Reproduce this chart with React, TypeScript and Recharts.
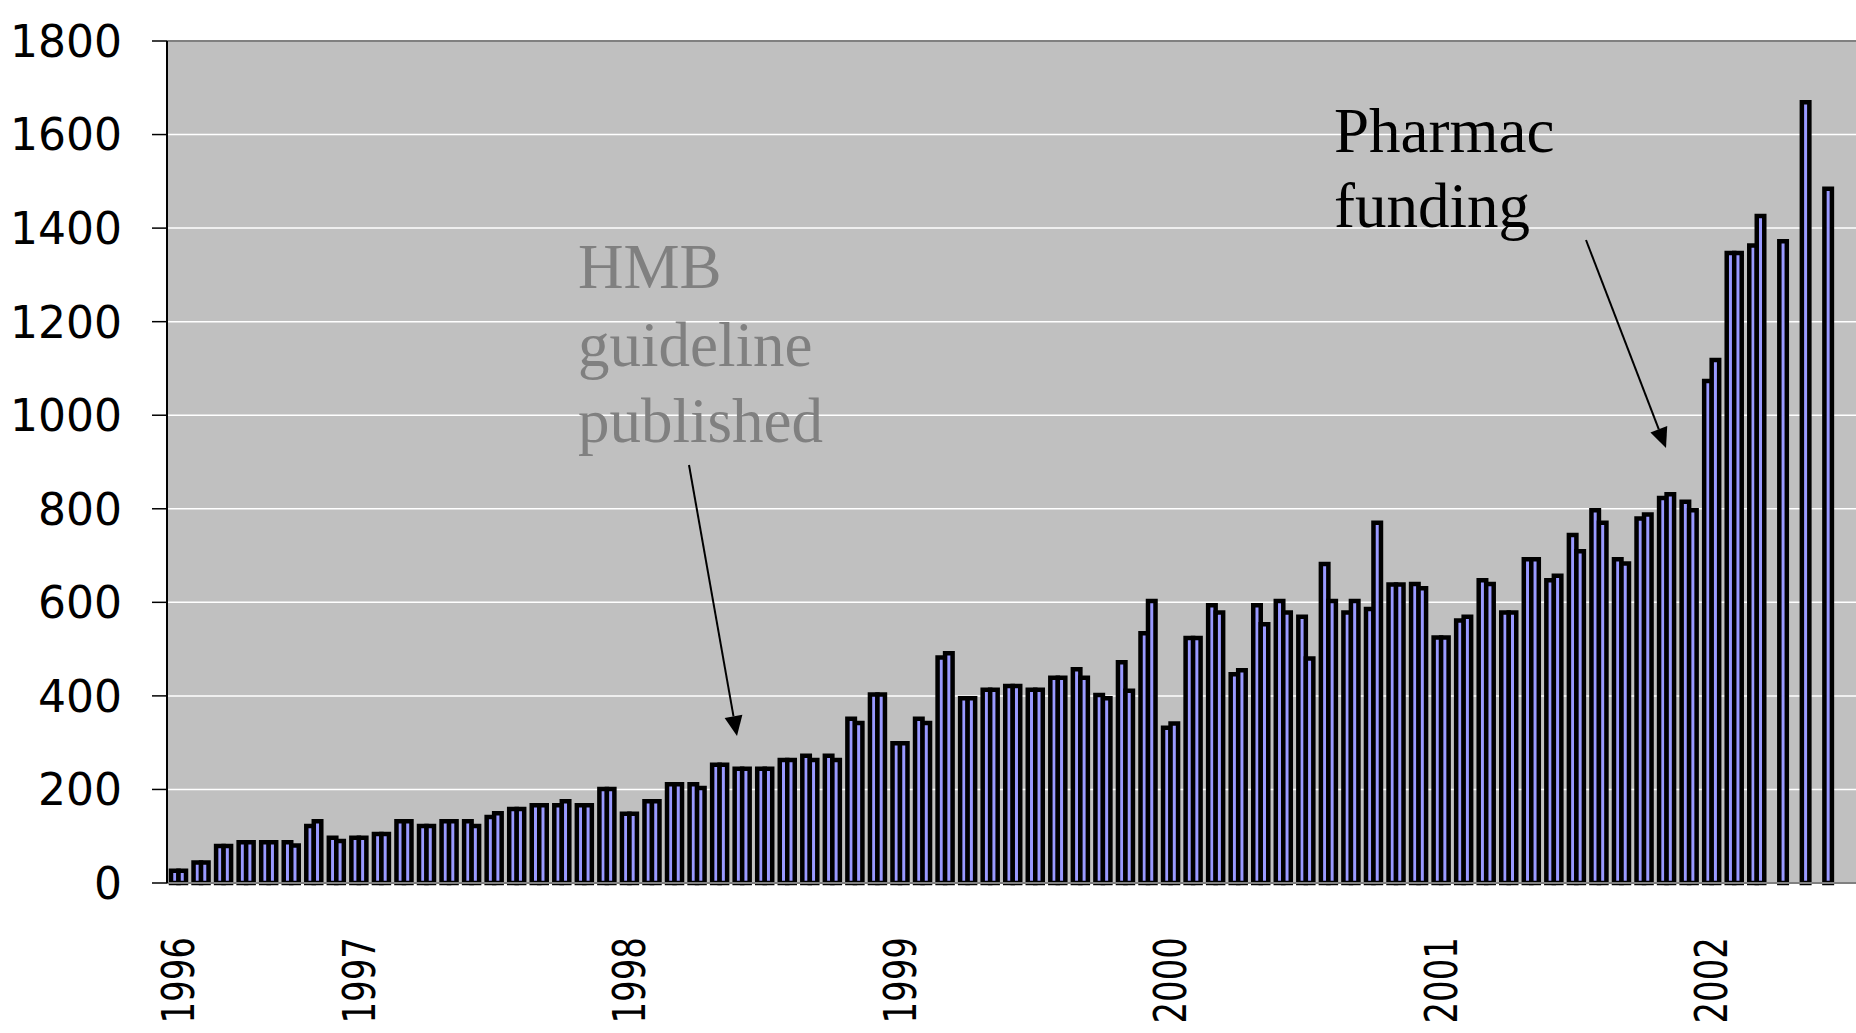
import { BarChart, Bar, XAxis, YAxis, CartesianGrid, ReferenceLine } from "recharts";

// one slot per month, May 1996 .. Jul 2002 (last slot empty in the picture)
const months = [
  "May-96", "Jun-96", "Jul-96", "Aug-96", "Sep-96", "Oct-96", "Nov-96", "Dec-96",
  "Jan-97", "Feb-97", "Mar-97", "Apr-97", "May-97", "Jun-97", "Jul-97", "Aug-97", "Sep-97", "Oct-97", "Nov-97", "Dec-97",
  "Jan-98", "Feb-98", "Mar-98", "Apr-98", "May-98", "Jun-98", "Jul-98", "Aug-98", "Sep-98", "Oct-98", "Nov-98", "Dec-98",
  "Jan-99", "Feb-99", "Mar-99", "Apr-99", "May-99", "Jun-99", "Jul-99", "Aug-99", "Sep-99", "Oct-99", "Nov-99", "Dec-99",
  "Jan-00", "Feb-00", "Mar-00", "Apr-00", "May-00", "Jun-00", "Jul-00", "Aug-00", "Sep-00", "Oct-00", "Nov-00", "Dec-00",
  "Jan-01", "Feb-01", "Mar-01", "Apr-01", "May-01", "Jun-01", "Jul-01", "Aug-01", "Sep-01", "Oct-01", "Nov-01", "Dec-01",
  "Jan-02", "Feb-02", "Mar-02", "Apr-02", "May-02", "Jun-02", "Jul-02",
];

const seriesA = [
  26, 44, 79, 87, 87, 87, 122, 97,
  97, 105, 132, 122, 132, 132, 141, 158, 166, 166, 166, 201,
  148, 175, 211, 211, 253, 244, 244, 263, 272, 272, 351, 403,
  299, 351, 482, 395, 413, 421, 413, 439, 457, 402, 472, 534,
  332, 524, 594, 446, 594, 603, 569, 682, 578, 586, 638, 639,
  525, 561, 647, 578, 692, 647, 744, 797, 692, 779, 823, 815,
  1073, 1347, 1363, null, null, null, null,
];

const seriesB = [
  26, 44, 79, 87, 87, 80, 132, 90,
  97, 105, 132, 122, 132, 122, 149, 158, 166, 175, 166, 201,
  148, 175, 211, 203, 253, 244, 244, 263, 263, 263, 342, 403,
  299, 342, 491, 395, 413, 421, 413, 439, 439, 395, 411, 603,
  341, 524, 578, 455, 553, 578, 480, 603, 603, 770, 638, 630,
  525, 569, 639, 578, 692, 657, 709, 770, 683, 788, 831, 797,
  1118, 1347, 1426, 1372, 1669, 1484, null,
];

const yTicks = [0, 200, 400, 600, 800, 1000, 1200, 1400, 1600, 1800];
const yearTicks = ["May-96", "Jan-97", "Jan-98", "Jan-99", "Jan-00", "Jan-01", "Jan-02"];
const yearLabels = ["1996", "1997", "1998", "1999", "2000", "2001", "2002"];

const data = months.map((m, i) => ({ month: m, a: seriesA[i], b: seriesB[i] }));

const YTick = ({ x, y, payload }: any) => (
  <text x={x} y={y} textAnchor="end" dy="0.36em" fontFamily="DejaVu Sans" fontSize={44} fill="#000">
    {payload.value}
  </text>
);

const XTick = ({ x, y, payload }: any) => (
  <g transform={`translate(${x},${y}) scale(1.3,1) rotate(-90)`}>
    <text textAnchor="end" dy="0.36em" fontFamily="DejaVu Sans" fontSize={34} fill="#000">
      {yearLabels[yearTicks.indexOf(payload.value)]}
    </text>
  </g>
);

// annotation arrows: start and tip in page pixels
const arrows = [
  { x1: 689, y1: 465, x2: 737, y2: 736 },
  { x1: 1586, y1: 240, x2: 1666, y2: 448 },
];

const Arrow = ({ x1, y1, x2, y2 }: { x1: number; y1: number; x2: number; y2: number }) => {
  const len = Math.hypot(x2 - x1, y2 - y1);
  const ux = (x2 - x1) / len;
  const uy = (y2 - y1) / len;
  const bx = x2 - ux * 20;
  const by = y2 - uy * 20;
  const px = -uy * 9;
  const py = ux * 9;
  return (
    <g>
      <line x1={x1} y1={y1} x2={bx} y2={by} stroke="#000" strokeWidth={2} />
      <polygon points={`${x2},${y2} ${bx + px},${by + py} ${bx - px},${by - py}`} fill="#000" />
    </g>
  );
};

const App = () => (
  <div style={{ position: "fixed", left: 0, top: 0, width: 1856, height: 1033, overflow: "hidden", background: "#fff" }}>
    <BarChart
      width={1900}
      height={1033}
      data={data}
      margin={{ top: 41, right: 42, bottom: 0, left: 0 }}
      barGap={0}
      barSize={7.5}
    >
      <CartesianGrid vertical={false} stroke="#fff" strokeWidth={1.5} fill="#C0C0C0" fillOpacity={1} />
      <XAxis
        dataKey="month"
        ticks={yearTicks}
        interval={0}
        tick={<XTick />}
        tickLine={false}
        tickSize={0}
        tickMargin={54}
        height={150}
        axisLine={{ stroke: "#808080", strokeWidth: 2 }}
      />
      <YAxis
        domain={[0, 1800]}
        ticks={yTicks}
        interval={0}
        width={167}
        tickSize={15}
        tickMargin={30}
        tick={<YTick />}
        tickLine={{ stroke: "#000", strokeWidth: 1.5 }}
        axisLine={{ stroke: "#000", strokeWidth: 2 }}
      />
      <ReferenceLine y={1800} stroke="#808080" strokeWidth={2} />
      <Bar dataKey="a" fill="#9999FF" stroke="#000" strokeWidth={4.5} isAnimationActive={false} />
      <Bar dataKey="b" fill="#9999FF" stroke="#000" strokeWidth={4.5} isAnimationActive={false} />
    </BarChart>
    <svg width={1856} height={1033} style={{ position: "absolute", left: 0, top: 0, pointerEvents: "none" }}>
      <g fontFamily="Liberation Serif" fontSize={63} fill="#808080">
        <text x={578} y={288}>HMB</text>
        <text x={578} y={366}>guideline</text>
        <text x={578} y={442}>published</text>
      </g>
      <g fontFamily="Liberation Serif" fontSize={63} fill="#000">
        <text x={1334} y={152}>Pharmac</text>
        <text x={1334} y={227}>funding</text>
      </g>
      {arrows.map((a, i) => (
        <Arrow key={i} {...a} />
      ))}
    </svg>
  </div>
);

export default App;
